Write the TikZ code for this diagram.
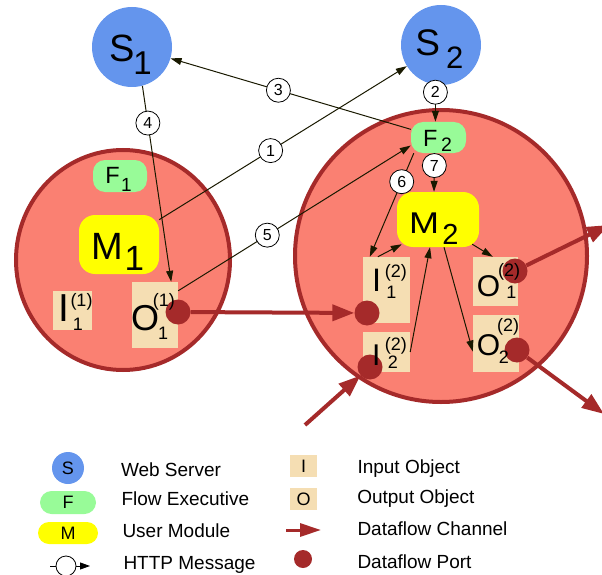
\documentclass[tikz,border=0pt]{standalone}
\usepackage{fontspec}
\usepackage{graphicx}
\setmainfont{Liberation Sans}
\usetikzlibrary{arrows.meta}
\definecolor{srv}{RGB}{100,149,237}
\definecolor{flowc}{RGB}{152,251,152}
\definecolor{modc}{RGB}{255,255,0}
\definecolor{objc}{RGB}{245,222,179}
\definecolor{procc}{RGB}{250,128,114}
\definecolor{brn}{RGB}{165,42,42}
\definecolor{msgc}{RGB}{25,25,0}
\newcommand{\fs}[1]{\fontsize{#1}{#1}\selectfont}
\newcommand{\sbl}[6]{\rlap{\fs{#1}#2}\hspace{#3}\raisebox{-#4}{\fs{#5}#6}}
\newcommand{\iol}[8]{\rlap{\fs{#1}#2}\rlap{\hspace{#4}\raisebox{#5}{\fs{18}#3}}\hspace{#6}\raisebox{-#7}{\fs{18}#8}}
\begin{document}
\begin{tikzpicture}[x=1pt,y=-1pt,
  srvn/.style={circle, fill=srv, minimum size=80pt, inner sep=0pt},
  flown/.style={rectangle, rounded corners=12pt, fill=flowc, minimum width=55pt, minimum height=31pt, inner sep=0pt},
  modn/.style={rectangle, rounded corners=16pt, fill=modc, inner sep=0pt},
  objn/.style={rectangle, fill=objc, inner sep=0pt},
  num/.style={circle, draw=black, fill=white, line width=0.8pt, minimum size=24pt, inner sep=0pt, font={\fs{16}}},
  http/.style={draw=msgc, line width=1pt, -{Triangle[length=11pt,width=7pt]}},
  httpl/.style={draw=black, line width=0.9pt, -{Triangle[length=10pt,width=7pt]}},
  chan/.style={draw=brn, line width=4pt, -{Triangle[length=22pt,width=16pt]}},
  portn/.style={circle, fill=brn, minimum size=25pt, inner sep=0pt},
  lbl/.style={anchor=base west, inner sep=0pt, outer sep=0pt},
  legt/.style={lbl, font={\fs{19}}},
  proc/.style={fill=procc, draw=brn, line width=4pt}]
\useasboundingbox (0,0) rectangle (602,575);
\clip (0,0) rectangle (602,575);

% processes
\draw[proc] (123,260) ellipse [x radius=107pt, y radius=110pt];
\draw[proc] (441,256) circle [radius=146pt];

% components
\node[srvn] (s1) at (132,47) {};
\node[srvn] (s2) at (441,45) {};
\node[flown, minimum width=54pt, minimum height=32pt] (f1) at (120,176) {};
\node[flown] (f2) at (438.5,137.5) {};
\node[modn, minimum width=80pt, minimum height=59pt] (m1) at (119,244.5) {};
\node[modn, minimum width=82pt, minimum height=55pt] (m2) at (438,219.5) {};
\node[objn, minimum width=39pt, minimum height=39pt] (i11) at (72.5,310.5) {};
\node[objn, minimum width=46pt, minimum height=66pt] (o11) at (155,315) {};
\node[objn, minimum width=47pt, minimum height=66pt] (i12) at (386.5,290) {};
\node[objn, minimum width=47pt, minimum height=40pt] (i22) at (386.5,352) {};
\node[objn, minimum width=45pt, minimum height=49pt] (o12) at (495.5,281.5) {};
\node[objn, minimum width=46pt, minimum height=57pt] (o22) at (496,343.5) {};

% HTTP messages
\draw[http] (m1) -- (s2) node[num, pos=0.45] (c1) {1};
\draw[http] (s2.-98) -- (s2.-98 |- f2.north) node[num, pos=0.2] (c2) {2};
\draw[http] (f2) -- (s1) node[num, pos=0.551] (c3) {3};
\draw[http] (s1.-75) -- ([xshift=-7pt]o11.north east) node[num, pos=0.19] (c4) {4};
\draw[http] ([yshift=-9pt]o11.north east) -- ([yshift=-8pt]f2.west) node[num, pos=0.383] (c5) {5};
\draw[http] ([xshift=3pt]f2.south west) -- ([xshift=7pt]i12.north west) node[num, pos=0.275] (c6) {6};
\draw[http] ([xshift=-4pt]f2.south) -- ([xshift=-4pt]m2.north) node[num, pos=0.32] (c7) {7};
\draw[http] ([xshift=15pt]i12.north west) -- ([shift={(5pt,3pt)}]m2.south west);
\draw[http] (i22.east) -- ([xshift=-8pt]m2.south);
\draw[http] ([xshift=6pt]m2.south) -- ([yshift=-8pt]o22.west);
\draw[http] ([shift={(-7pt,3pt)}]m2.south east) -- ([xshift=20pt]o12.north west);

% ports
\node[portn] (po11) at (178,312) {};
\node[portn] (pi12) at (367,313) {};
\node[portn] (pi22) at (370,367) {};
\node[portn] (po12) at (515,271) {};
\node[portn] (po22) at (517,350) {};

% channels
\draw[chan] (po11) -- (pi12);
\coordinate (inx) at (305,425);
\draw[chan] (inx) -- (pi22);
\coordinate (outa) at (609,225);
\draw[chan] (po12) -- (outa);
\coordinate (outb) at (604,414);
\draw[chan] (po22) -- (outb);

% labels
\node[lbl] (s1t) at (109.3,62) {\sbl{38}{S}{24.1pt}{13pt}{33}{1}};
\node[lbl] (s2t) at (415.3,56) {\sbl{37}{S}{30.7pt}{13pt}{31}{2}};
\node[lbl] (f1t) at (105.4,183.3) {\sbl{23.5}{F}{15.8pt}{8.4pt}{19}{1}};
\node[lbl] (f2t) at (423,146.7) {\sbl{23.5}{F}{18.1pt}{5pt}{19.5}{2}};
\node[lbl] (m1t) at (91.5,259) {\sbl{38}{M}{33pt}{11pt}{35}{1}};
\node[lbl] (m2t) at (409,233.3) {\sbl{30}{\scalebox{1.2}[1]{M}}{33.4pt}{11pt}{29}{2}};
\node[lbl] (i11t) at (58,321.7) {\iol{39}{I}{(1)}{12.5pt}{15.7pt}{14.9pt}{8.3pt}{1}};
\node[lbl] (o11t) at (131,330.5) {\iol{36}{O}{(1)}{21.9pt}{24.5pt}{27pt}{8.8pt}{1}};
\node[lbl] (i12t) at (372,291.7) {\iol{32.5}{I}{(2)}{12.9pt}{14.4pt}{14.4pt}{6.6pt}{1}};
\node[lbl] (i22t) at (372.2,365) {\iol{30}{I}{(2)}{12.7pt}{14.3pt}{15.6pt}{3.3pt}{2}};
\node[lbl] (o12t) at (476.8,296.5) {\iol{30}{O}{(2)}{21.4pt}{20.5pt}{29.6pt}{1.8pt}{1}};
\node[lbl] (o22t) at (476.8,355) {\iol{30}{O}{(2)}{20.4pt}{23.3pt}{22pt}{8.3pt}{2}};

% legend
\node[srvn, minimum size=32pt, font={\fs{18}}] (ls) at (68,468) {S};
\node[flown, minimum width=56pt, minimum height=23pt, rounded corners=11.5pt, font={\fs{18}}] (lf) at (68,502.5) {F};
\node[modn, minimum width=60pt, minimum height=22pt, rounded corners=11pt, font={\fs{18}}] (lm) at (68,533) {M};
\coordinate (lh1) at (50,566);
\coordinate (lh2) at (90,566);
\draw[httpl] (lh1) -- (lh2) node[num, minimum size=20pt, pos=0.4] (lhc) {};
\node[legt] (lt1) at (121,476) {Web Server};
\node[legt] (lt2) at (121.5,505) {Flow Executive};
\node[legt] (lt3) at (122.5,537) {User Module};
\node[legt] (lt4) at (123.5,569) {HTTP Message};

\node[objn, minimum width=27pt, minimum height=22pt, font={\fs{18}}] (li) at (303.5,466) {I};
\node[objn, minimum width=27pt, minimum height=22pt, font={\fs{18}}] (lo) at (303.5,499) {O};
\coordinate (lc1) at (286,530);
\coordinate (lc2) at (321,530);
\draw[chan, line width=3pt, -{Triangle[length=21pt,width=13pt]}] (lc1) -- (lc2);
\node[portn, minimum size=18pt] (lp) at (303,559) {};
\node[legt] (lt5) at (357.5,473) {Input Object};
\node[legt] (lt6) at (357.3,503) {Output Object};
\node[legt] (lt7) at (357.5,535) {Dataflow Channel};
\node[legt] (lt8) at (357.5,568) {Dataflow Port};
\end{tikzpicture}
\end{document}
